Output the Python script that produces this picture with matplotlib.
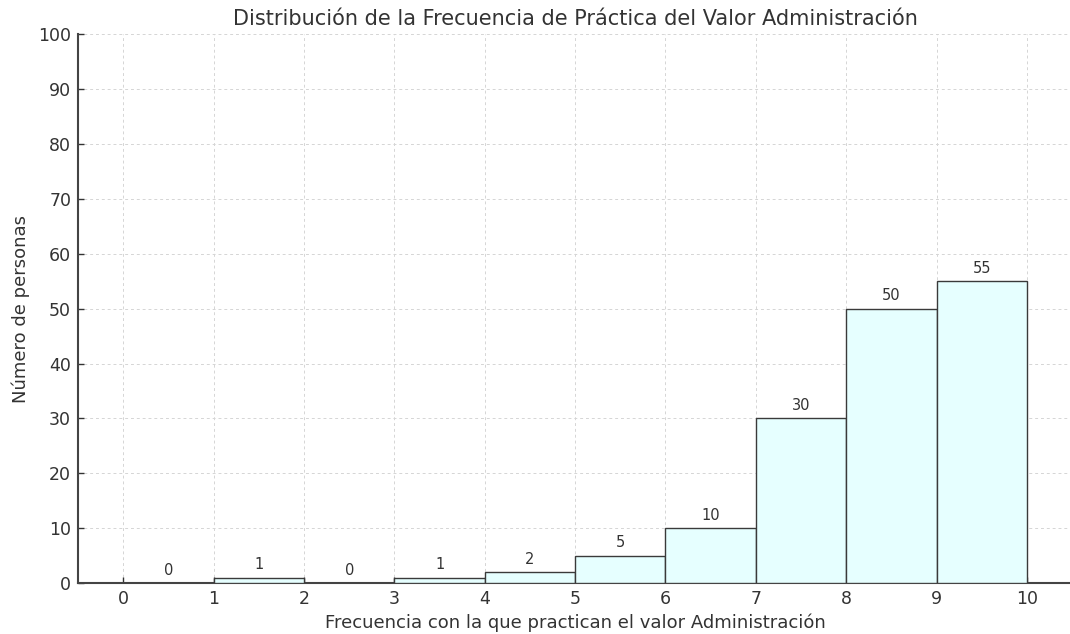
import matplotlib.pyplot as plt
import numpy as np

bins = np.arange(0, 11)
conteos = [0, 1, 0, 1, 2, 5, 10, 30, 50, 55]
ticks_x = list(range(0, 11))
ticks_y = list(range(0, 101, 10))

titulo = "Distribución de la Frecuencia de Práctica del Valor Administración"
etiqueta_x = "Frecuencia con la que practican el valor Administración"
etiqueta_y = "Número de personas"

plt.rcParams['text.color'] = '#333333'
plt.rcParams['axes.labelcolor'] = '#333333'
plt.rcParams['xtick.color'] = '#333333'
plt.rcParams['ytick.color'] = '#333333'

fig = plt.figure(figsize=(10.7, 6.34), dpi=100)
ax = fig.add_axes([0.073, 0.0804, 0.929, 0.8656])

ax.bar(bins[:-1], conteos, width=1, align='edge', color='#E6FFFF',
       edgecolor='#3a3a3a', linewidth=1.0, zorder=3)

for x, c in zip(bins[:-1], conteos):
    ax.text(x + 0.5, c + 1, str(c), ha='center', va='bottom', fontsize=10.5,
            color='#333333', zorder=4)

ax.set_xlim(-0.5, 10.5)
ax.set_ylim(0, 100)
ax.set_xticks(ticks_x)
ax.set_yticks(ticks_y)
ax.tick_params(direction='in', labelsize=12.5, length=4, width=1, pad=5)

ax.grid(True, linestyle=(0, (3, 3)), color='#d5d5d5', linewidth=0.7, zorder=0)
ax.spines['top'].set_visible(False)
ax.spines['right'].set_visible(False)
ax.spines['left'].set_color('#444444')
ax.spines['bottom'].set_color('#444444')
ax.spines['left'].set_linewidth(1.5)
ax.spines['bottom'].set_linewidth(1.5)

ax.set_title(titulo, fontsize=15, pad=7)
ax.set_xlabel(etiqueta_x, fontsize=13, labelpad=4)
ax.set_ylabel(etiqueta_y, fontsize=13, labelpad=6)

fig.savefig('out.png', dpi=100)
